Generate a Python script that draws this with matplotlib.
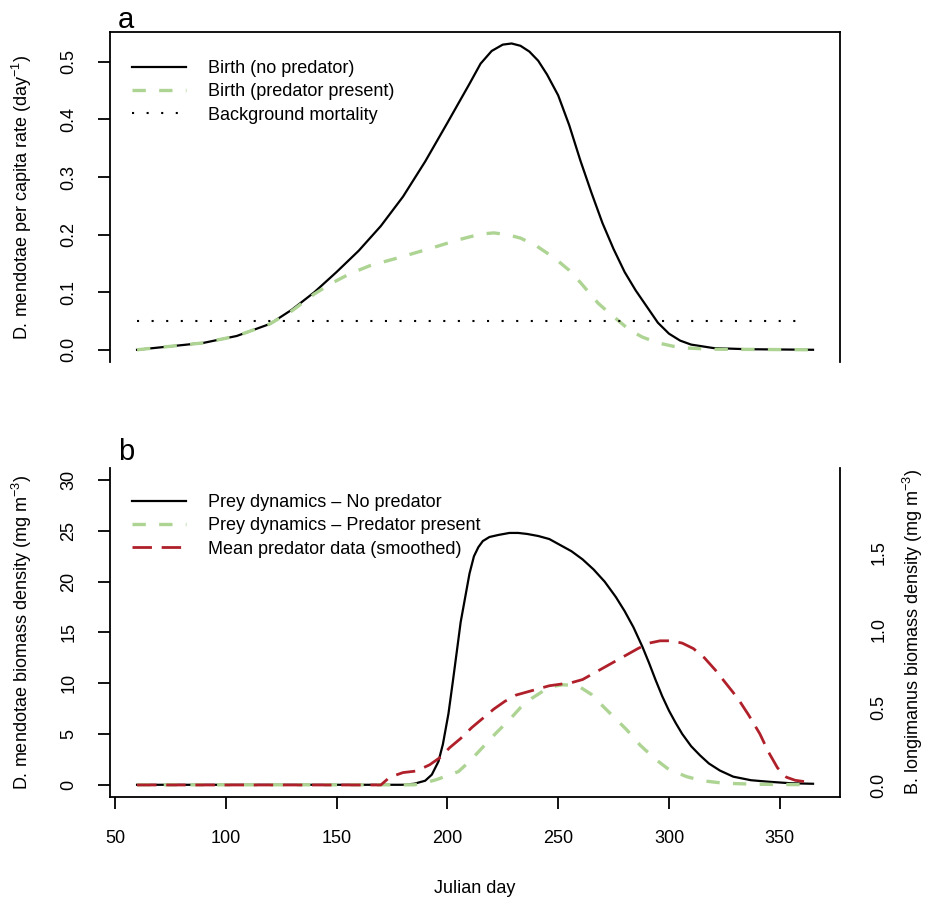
import matplotlib
matplotlib.use("Agg")
import matplotlib.pyplot as plt

plt.rcParams['font.family'] = ['Liberation Sans', 'DejaVu Sans']
plt.rcParams['mathtext.fontset'] = 'custom'
plt.rcParams['mathtext.rm'] = 'Liberation Sans'
plt.rcParams['mathtext.default'] = 'regular'

# ---- panel a : per capita rates ----
birth_days = [60, 75, 90, 105, 120, 130, 140, 150, 160, 170, 180, 190, 200, 205, 210,
              215, 220, 225, 229, 233, 237, 241, 245, 250, 255, 260, 265, 270, 275,
              280, 285, 290, 295, 300, 305, 310, 320, 335, 350, 365]
birth_nopred = [0.0, 0.006, 0.012, 0.024, 0.045, 0.07, 0.1, 0.135, 0.172, 0.215, 0.266,
                0.327, 0.394, 0.428, 0.462, 0.497, 0.519, 0.53, 0.532, 0.528, 0.518,
                0.502, 0.478, 0.442, 0.39, 0.329, 0.273, 0.22, 0.175, 0.135, 0.103,
                0.075, 0.047, 0.028, 0.016, 0.009, 0.003, 0.001, 0.0005, 0.0]

birth_pred_days = [60, 75, 90, 105, 120, 130, 140, 148, 156, 165, 179, 194, 205, 215, 221,
                   227, 233, 240, 245, 250, 255, 260, 264, 268, 273, 278, 282, 288, 295,
                   302, 308, 320, 365]
birth_pred = [0.0, 0.006, 0.012, 0.024, 0.045, 0.068, 0.097, 0.116, 0.132, 0.146, 0.161,
              0.178, 0.191, 0.201, 0.203, 0.2, 0.194, 0.181, 0.168, 0.154, 0.138, 0.117,
              0.099, 0.081, 0.064, 0.048, 0.035, 0.022, 0.012, 0.006, 0.003, 0.001, 0.0]

mort_days = [60, 360]
mort_rate = [0.05, 0.05]

# ---- panel b : densities ----
prey_days = [60, 100, 150, 180, 185, 190, 193, 196, 198, 200.5, 202.5, 204.5, 206, 208,
             210, 212, 214, 216, 219, 223, 228, 232, 236, 241, 246, 251, 256, 261, 266,
             271, 276, 280, 284, 288, 291, 294, 297, 300, 303, 306, 310, 314, 318, 323,
             329, 337, 345, 355, 365]
prey_nopred = [0, 0, 0, 0, 0.1, 0.4, 1.0, 2.3, 4.0, 7.0, 10.2, 13.5, 16.0, 18.4, 20.8,
               22.5, 23.4, 24.0, 24.4, 24.6, 24.8, 24.8, 24.7, 24.5, 24.2, 23.6, 23.0,
               22.2, 21.2, 20.0, 18.5, 17.1, 15.5, 13.6, 12.0, 10.3, 8.7, 7.3, 6.1, 5.0,
               3.8, 2.9, 2.1, 1.4, 0.8, 0.45, 0.3, 0.15, 0.1]

prey_pred_days = [60, 185, 190, 195, 200, 205, 210, 216, 222, 228, 233, 238, 243, 248,
                  252, 256, 260, 265, 269, 275, 281, 287, 294, 300, 308, 315, 325, 340, 365]
prey_pred = [0, 0, 0.2, 0.5, 0.9, 1.3, 2.3, 3.7, 5.1, 6.4, 7.6, 8.5, 9.2, 9.7, 9.85, 9.8,
             9.6, 8.9, 8.0, 6.7, 5.4, 3.9, 2.5, 1.5, 0.8, 0.4, 0.15, 0.05, 0]

pred_days = [60, 100, 150, 170, 174, 180, 186, 192, 197, 201, 206, 211, 216, 221, 226,
             231, 236, 241, 246, 251, 256, 261, 266, 271, 276, 281, 286, 291, 296, 301,
             306, 311, 316, 321, 326, 331, 336, 341, 345, 349, 353, 357, 362, 365]
pred_dens = [0, 0, 0, 0, 0.05, 0.08, 0.09, 0.13, 0.18, 0.24, 0.3, 0.37, 0.43, 0.49, 0.54,
             0.58, 0.6, 0.62, 0.64, 0.65, 0.66, 0.68, 0.72, 0.76, 0.8, 0.84, 0.88, 0.915,
             0.93, 0.93, 0.915, 0.88, 0.82, 0.74, 0.65, 0.56, 0.45, 0.33, 0.21, 0.11,
             0.05, 0.03, 0.02, 0.01]

xticks = [50, 100, 150, 200, 250, 300, 350]
green = '#aed494'
red = '#b0202a'
fs = 13

fig = plt.figure(figsize=(9.3, 8.98), dpi=100)
axa = fig.add_axes([0.1183, 0.5969, 0.785, 0.3675])
axb = fig.add_axes([0.1183, 0.1125, 0.785, 0.3664])
axr = axb.twinx()

# panel a
axa.plot(birth_days, birth_nopred, color='black', lw=1.6, label='Birth (no predator)')
axa.plot(birth_pred_days, birth_pred, color=green, lw=2.4, dashes=(4, 4),
         label='Birth (predator present)')
axa.plot(mort_days, mort_rate, color='black', lw=1.5, dashes=(1, 6),
         label='Background mortality')
axa.set_xlim(47.8, 377.2)
axa.set_ylim(-0.0212, 0.552)
axa.set_yticks([0.0, 0.1, 0.2, 0.3, 0.4, 0.5])
axa.set_yticklabels(['0.0', '0.1', '0.2', '0.3', '0.4', '0.5'])
axa.set_xticks([])
axa.spines['bottom'].set_visible(False)
axa.set_ylabel('D. mendotae per capita rate (day$^{-1}$)', fontsize=fs)
axa.yaxis.set_label_coords(-0.104, 0.5)
axa.legend(loc='upper left', bbox_to_anchor=(0.03, 0.915), frameon=False, fontsize=fs,
           handlelength=3.0, handletextpad=1.2, labelspacing=0.35, borderpad=0,
           borderaxespad=0)

# panel b
axb.plot(prey_days, prey_nopred, color='black', lw=1.6, label='Prey dynamics \u2013 No predator')
axb.plot(prey_pred_days, prey_pred, color=green, lw=2.4, dashes=(4, 4),
         label='Prey dynamics \u2013 Predator present')
axr.plot(pred_days, pred_dens, color=red, lw=2.0, dashes=(7, 3.5),
         label='Mean predator data (smoothed)')
axb.set_xlim(47.8, 377.2)
axb.set_ylim(-1.2, 31.2)
axr.set_ylim(-0.0774, 2.045)
axb.set_xticks(xticks)
axb.set_xticklabels([str(t) for t in xticks])
axb.set_yticks([0, 5, 10, 15, 20, 25, 30])
axr.set_yticks([0.0, 0.5, 1.0, 1.5])
axr.set_yticklabels(['0.0', '0.5', '1.0', '1.5'])
axb.spines['top'].set_visible(False)
axb.spines['right'].set_visible(False)
axr.spines['top'].set_visible(False)
axr.spines['left'].set_visible(False)
axr.spines['bottom'].set_visible(False)
axb.set_xlabel('Julian day', fontsize=fs)
axb.xaxis.set_label_coords(0.5, -0.252)
axb.set_ylabel('D. mendotae biomass density (mg m$^{-3}$)', fontsize=fs)
axb.yaxis.set_label_coords(-0.104, 0.5)
axr.set_ylabel('B. longimanus biomass density (mg m$^{-3}$)', fontsize=fs)
axr.yaxis.set_label_coords(1.084, 0.5)

h1, l1 = axb.get_legend_handles_labels()
h2, l2 = axr.get_legend_handles_labels()
axr.legend(h1 + h2, l1 + l2, loc='upper left', bbox_to_anchor=(0.03, 0.921), frameon=False,
           fontsize=fs, handlelength=3.0, handletextpad=1.2, labelspacing=0.35,
           borderpad=0, borderaxespad=0)

for ax in (axa, axb, axr):
    for s in ax.spines.values():
        s.set_linewidth(1.3)
axa.tick_params(axis='y', length=8.5, width=1.3, pad=15, labelsize=fs)
axb.tick_params(axis='both', length=8.5, width=1.3, pad=15, labelsize=fs)
axr.tick_params(axis='y', length=0, pad=22, labelsize=fs)
for ax in (axa, axb, axr):
    plt.setp(ax.get_yticklabels(), rotation=90, va='center')

fig.text(118 / 930, 1 - 28 / 898, 'a', fontsize=21, va='baseline', ha='left')
fig.text(118 / 930, 1 - 460 / 898, 'b', fontsize=21, va='baseline', ha='left')

fig.savefig('out.png', dpi=100)
